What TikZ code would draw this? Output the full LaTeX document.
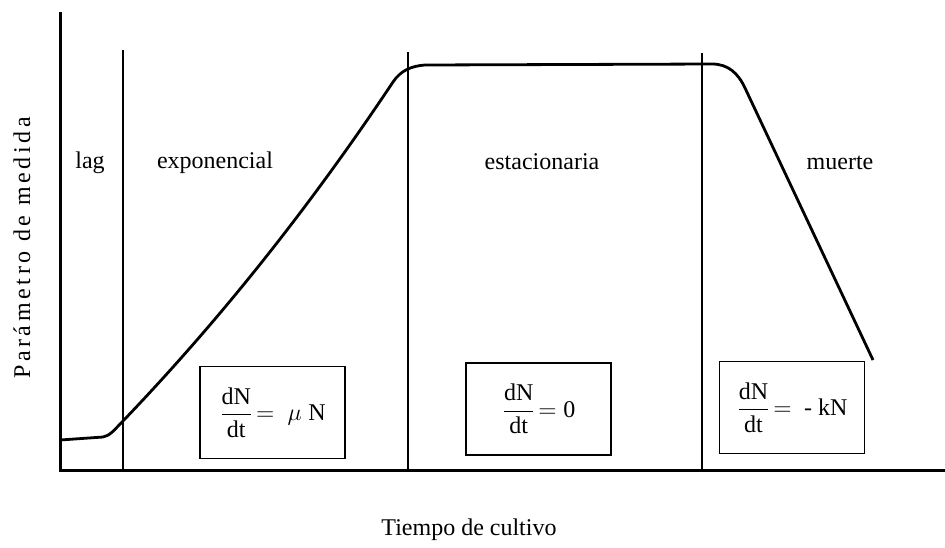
\documentclass[tikz,border=0pt,12pt]{standalone}
\usepackage{amsmath}
\usepackage{fontspec}
\setmainfont{Liberation Serif}
\newfontfamily\spacedserif[LetterSpace=15]{Liberation Serif}
\usepackage{tikz}

\tikzset{
  eqbox/.style={draw,line width=.7pt,minimum width=72.5pt,minimum height=46pt,inner sep=2pt},
  phase/.style={line width=.8pt},
}

\begin{document}
\begin{tikzpicture}[x=.5pt,y=-.5pt]
        \useasboundingbox (0,0) rectangle (945,547);
        \coordinate (top) at (60,12);
        \coordinate (o) at (60,470);
        \coordinate (end) at (945,470);
        \draw[line width=1.5pt] (top) -- (o) -- (end);
        \foreach \x/\t in {123/50,408/52,702/53}
            \draw[phase] (\x,\t) -- (\x,470);
        \draw[line width=1.4pt,line join=round] (60,440) -- (103,437)
            .. controls (110,436) and (115,429) .. (123,421)
            .. controls (213,327) and (303,217) .. (393,82)
            .. controls (401,70) and (412,66) .. (425,65) -- (712,64)
            .. controls (728,64) and (738,73) .. (745,88) -- (873,360);
        \node (lag) at (90,163) {lag};
        \node (expo) at (215,163) {exponencial};
        \node (esta) at (542,162) {estacionaria};
        \node (muerte) at (840,163) {muerte};
        \node[eqbox] (mu) at (272.5,412.5) {$\dfrac{\text{dN}}{\text{dt}}\!=\;\mu\;\text{N}$};
        \node[eqbox] (cero) at (538.5,409) {$\dfrac{\text{dN}}{\text{dt}}\!=\text{0}$};
        \node[eqbox] (kn) at (792,407.5) {$\dfrac{\text{dN}}{\text{dt}}\!=\text{ - kN}$};
        \node (xlab) at (469,530) {Tiempo de cultivo};
        \node[rotate=90] (ylab) at (22,248) {\spacedserif Parámetro de medida};
    \end{tikzpicture}
\end{document}
